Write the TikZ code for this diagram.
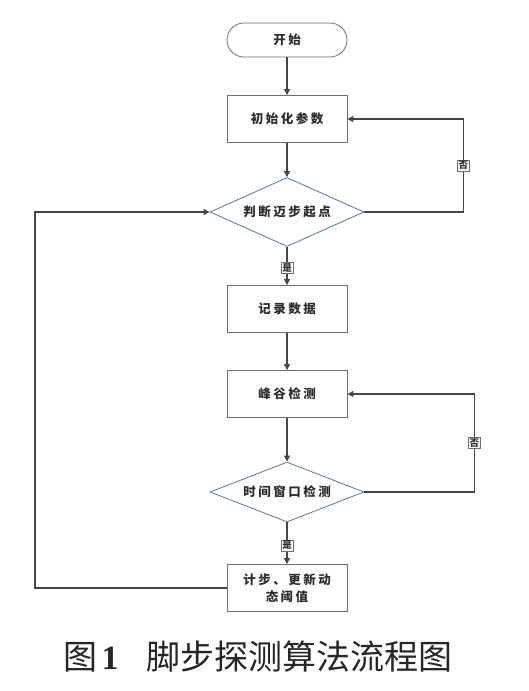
\documentclass[tikz,border=0pt]{standalone}
\usepackage{fontspec}
\newfontfamily\cjk{Noto Sans CJK SC}
\newfontfamily\cjkbox[LetterSpace=20]{Noto Sans CJK SC}
\newfontfamily\capnum{Liberation Serif}
\usetikzlibrary{shapes.geometric,arrows.meta}
\definecolor{boxline}{RGB}{105,110,120}
\definecolor{decline}{RGB}{95,118,150}
\definecolor{linkline}{RGB}{70,70,70}
\definecolor{boxtext}{RGB}{45,45,45}
\begin{document}
\begin{tikzpicture}[x=1pt,y=-1pt,
    every node/.style={font=\cjkbox\bfseries\fontsize{12.5}{17}\selectfont, text=boxtext},
    procbox/.style={draw=boxline, fill=white, line width=0.8pt,
      minimum width=120pt, minimum height=47pt, align=center, inner sep=2pt},
    termbox/.style={draw=boxline, fill=white, line width=0.8pt, rounded corners=17pt,
      minimum width=120pt, minimum height=34pt},
    decbox/.style={draw=decline, fill=white, line width=0.8pt, diamond,
      aspect=2.2, inner sep=0pt, minimum width=154pt},
    ynlabel/.style={draw=boxline, fill=white, line width=0.4pt, inner sep=1.2pt,
      font=\cjk\bfseries\fontsize{9.5}{10}\selectfont},
    link/.style={draw=linkline, line width=1.1pt, -{Triangle[length=6pt,width=6pt]}}]
  \useasboundingbox (0,0) rectangle (529,691);

  % main column
  \node[termbox] (start) at (287,40) {开始};
  \node[procbox] (init) at (287,119) {初始化参数};
  \node[decbox, minimum height=69pt] (dec1) at (287,212) {判断迈步起点};
  \node[procbox] (rec) at (287,309) {记录数据};
  \node[procbox] (peak) at (287,394) {峰谷检测};
  \node[decbox, minimum height=60pt] (dec2) at (287,492) {时间窗口检测};
  \node[procbox] (step) at (287,588) {计步、更新动\\态阈值};

  \draw[link] (start) -- (init);
  \draw[link] (init) -- (dec1);
  \draw[link] (dec1) -- node[ynlabel, pos=0.55] {是} (rec);
  \draw[link] (rec) -- (peak);
  \draw[link] (peak) -- (dec2);
  \draw[link] (dec2) -- node[ynlabel, pos=0.55] {是} (step);

  % loops back
  \draw[link] (dec1.east) -- ++(99,0) |- node[ynlabel, pos=0.25] {否} (init.east);
  \draw[link] (dec2.east) -- ++(110,0) |- node[ynlabel, pos=0.25] {否} (peak.east);
  \coordinate (back) at (35,588);
  \draw[link] (step.west) -- (back) |- (dec1.west);

  % caption
  \node[font=\cjk\fontsize{34}{40}\selectfont, text=black!85] (caption) at (258,657)
    {图\hspace{4pt}{\capnum\bfseries 1}\hspace{28pt}脚步探测算法流程图};
\end{tikzpicture}
\end{document}
